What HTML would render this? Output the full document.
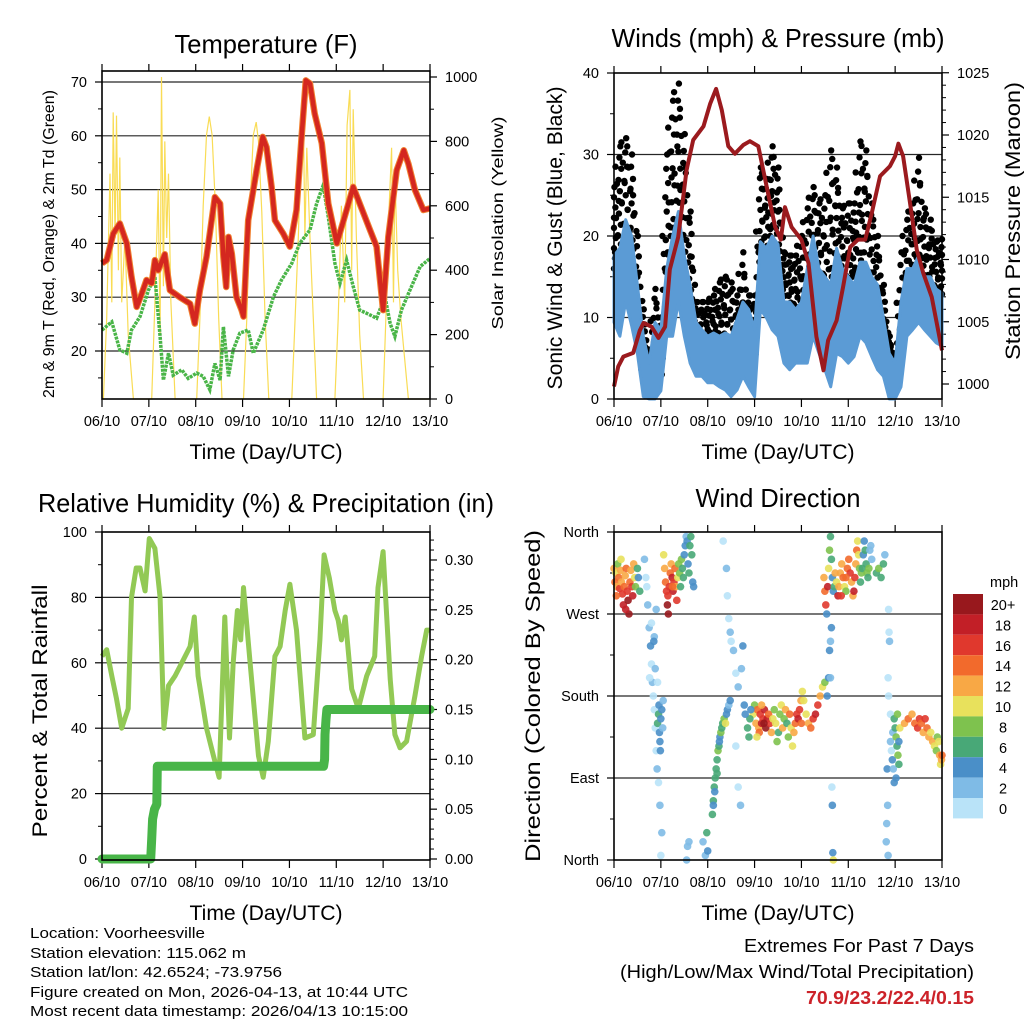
<!DOCTYPE html>
<html><head><meta charset="utf-8"><style>
html,body{margin:0;padding:0;background:#fff;}
svg{display:block;font-family:"Liberation Sans",sans-serif;}
</style></head><body>
<svg id="chart" width="1024" height="1024" viewBox="0 0 1024 1024" xmlns="http://www.w3.org/2000/svg">
<rect x="0" y="0" width="1024" height="1024" fill="#fff"/>
<g id="g1"></g>
<g id="g2"></g>
<g id="g3"></g>
<g id="g4"></g>

<text x="266" y="53" font-size="26" text-anchor="middle" textLength="183" lengthAdjust="spacingAndGlyphs">Temperature (F)</text>
<text x="778" y="47" font-size="26" text-anchor="middle" textLength="333" lengthAdjust="spacingAndGlyphs">Winds (mph) &amp; Pressure (mb)</text>
<text x="266" y="512" font-size="26" text-anchor="middle" textLength="456" lengthAdjust="spacingAndGlyphs">Relative Humidity (%) &amp; Precipitation (in)</text>
<text x="778" y="507" font-size="26" text-anchor="middle" textLength="165" lengthAdjust="spacingAndGlyphs">Wind Direction</text>

<text x="266" y="459" font-size="21" text-anchor="middle" textLength="153" lengthAdjust="spacingAndGlyphs">Time (Day/UTC)</text>
<text x="778" y="459" font-size="21" text-anchor="middle" textLength="153" lengthAdjust="spacingAndGlyphs">Time (Day/UTC)</text>
<text x="266" y="920" font-size="21" text-anchor="middle" textLength="153" lengthAdjust="spacingAndGlyphs">Time (Day/UTC)</text>
<text x="778" y="920" font-size="21" text-anchor="middle" textLength="153" lengthAdjust="spacingAndGlyphs">Time (Day/UTC)</text>

<text transform="translate(54,244) rotate(-90)" font-size="16" text-anchor="middle" textLength="308" lengthAdjust="spacingAndGlyphs">2m &amp; 9m T (Red, Orange) &amp; 2m Td (Green)</text>
<text transform="translate(503,223) rotate(-90)" font-size="16" text-anchor="middle" textLength="213" lengthAdjust="spacingAndGlyphs">Solar Insolation (Yellow)</text>
<text transform="translate(562,238) rotate(-90)" font-size="21" text-anchor="middle" textLength="303" lengthAdjust="spacingAndGlyphs">Sonic Wind &amp; Gust (Blue, Black)</text>
<text transform="translate(1020,221) rotate(-90)" font-size="21" text-anchor="middle" textLength="278" lengthAdjust="spacingAndGlyphs">Station Pressure (Maroon)</text>
<text transform="translate(47,711) rotate(-90)" font-size="21" text-anchor="middle" textLength="253" lengthAdjust="spacingAndGlyphs">Percent &amp; Total Rainfall</text>
<text transform="translate(540,696) rotate(-90)" font-size="21" text-anchor="middle" textLength="332" lengthAdjust="spacingAndGlyphs">Direction (Colored By Speed)</text>

<g font-size="15">
<text x="30" y="938" textLength="175" lengthAdjust="spacingAndGlyphs">Location: Voorheesville</text>
<text x="30" y="958" textLength="216" lengthAdjust="spacingAndGlyphs">Station elevation: 115.062 m</text>
<text x="30" y="977" textLength="252" lengthAdjust="spacingAndGlyphs">Station lat/lon: 42.6524; -73.9756</text>
<text x="30" y="997" textLength="378" lengthAdjust="spacingAndGlyphs">Figure created on Mon, 2026-04-13, at 10:44 UTC</text>
<text x="30" y="1016" textLength="378" lengthAdjust="spacingAndGlyphs">Most recent data timestamp: 2026/04/13 10:15:00</text>
</g>
<g font-size="18" text-anchor="end">
<text x="974" y="952" textLength="230" lengthAdjust="spacingAndGlyphs">Extremes For Past 7 Days</text>
<text x="974" y="978" textLength="354" lengthAdjust="spacingAndGlyphs">(High/Low/Max Wind/Total Precipitation)</text>
<text x="974" y="1004" fill="#cc2229" font-weight="bold" textLength="168" lengthAdjust="spacingAndGlyphs">70.9/23.2/22.4/0.15</text>
</g>
</svg>
<script>
// ---------- data ----------
const dayLabels = ["06/10","07/10","08/10","09/10","10/10","11/10","12/10","13/10"];
const tempTicks = [20,30,40,50,60,70];
const solarTicks = [0,200,400,600,800,1000];
const windTicks = [0,10,20,30,40];
const presTicks = [1000,1005,1010,1015,1020,1025];
const rhTicks = [0,20,40,60,80,100];
const precipTicks = [0,0.05,0.10,0.15,0.20,0.25,0.30];
const precipTickLabels = ["0.00","0.05","0.10","0.15","0.20","0.25","0.30"];
const dirTicks = [0,90,180,270,360];
const dirTickLabels = ["North","East","South","West","North"];

const tempT = [0,0.10,0.24,0.38,0.53,0.63,0.74,0.85,0.95,1.06,1.13,1.20,1.34,1.45,1.66,1.88,1.98,2.09,2.23,2.41,2.52,2.59,2.65,2.70,2.77,2.87,2.98,3.02,3.12,3.30,3.43,3.51,3.62,3.69,3.87,4.01,4.15,4.26,4.35,4.44,4.54,4.69,4.83,5.01,5.22,5.36,5.50,5.72,5.86,6.00,6.11,6.29,6.44,6.54,6.68,6.86,7.00];
const tempV = [36.3,36.9,41.8,43.7,40,33.8,28.2,30.7,33.2,32.6,36.9,35,38,31.3,30,28.8,25.1,31.3,37.5,48.6,47.4,37.5,31.9,41.2,38.1,30,27.6,26.4,44.3,53.6,59.8,57.9,50.5,44.3,41.8,39.4,46.2,59.8,70.3,69.7,64.1,58.6,47.4,40,46.2,50.5,47.4,42.5,39.4,27.6,41.2,53.6,57.3,54.8,49.9,46.2,46.5];
const dewT = [0,0.21,0.38,0.53,0.63,0.81,0.99,1.13,1.24,1.31,1.42,1.52,1.70,1.84,2.02,2.16,2.30,2.41,2.52,2.59,2.70,2.80,2.94,3.12,3.23,3.44,3.66,3.83,4.05,4.22,4.44,4.58,4.72,4.83,4.97,5.08,5.22,5.36,5.50,5.65,5.86,6.04,6.15,6.25,6.39,6.57,6.79,7.00];
const dewV = [23.9,25.4,20.2,19.6,23.9,26.4,31.3,33.8,22.7,14.6,19.6,15.5,16.5,14.9,15.9,15.3,12.8,17.7,14.6,24.5,15.3,20.2,23.3,23.9,19.6,23.9,30.1,33.2,36.3,40,42.5,47.4,50.8,44.9,36.3,32.6,36.9,32,27.6,27,26.1,30.1,25.1,22.7,27.6,31.3,35.7,37.2];
const solarT = [0,0.03,0.10,0.17,0.21,0.24,0.28,0.31,0.35,0.38,0.42,0.49,0.56,0.67,1.06,1.13,1.20,1.24,1.27,1.31,1.34,1.38,1.42,1.47,1.56,2.02,2.09,2.16,2.23,2.29,2.35,2.42,2.49,2.56,3.02,3.09,3.16,3.23,3.29,3.34,3.41,3.48,3.56,4.05,4.12,4.19,4.25,4.30,4.33,4.37,4.44,4.51,4.58,4.97,5.04,5.11,5.18,5.23,5.29,5.33,5.36,5.43,5.50,5.58,6.00,6.07,6.13,6.18,6.22,6.25,6.31,6.38,6.54,7.00];
const solarW = [0,0,250,700,300,890,500,880,400,750,300,500,200,0,0,300,650,200,1000,350,800,500,700,300,0,0,250,600,820,877,820,600,250,0,0,250,600,820,860,800,580,250,0,0,250,500,800,840,500,780,500,250,0,0,250,600,300,850,960,400,900,500,200,0,0,300,600,780,300,700,400,250,0,0];

const gustHi = [26,31,32,30,20,11,5.6,13.5,10,30,36.6,38.7,32.5,23,11.9,11.9,11.9,12.7,14.3,15,14.3,12.7,18,12.7,12.7,28.4,27,31,28.4,18,17.6,17.6,20,23.4,26,24,25,30.5,28.4,23.4,24,24,31.6,30.5,24,20,14,7.7,5.6,18,22,24,29.6,23.4,22,19.3,19.6];
const gustLo = [16,20,18,18,10,3.6,2,4,2,16,20,22,16,12,5.7,4.4,5.2,5.7,6,5.7,5.2,5.7,5.7,5.7,4.4,18,17.6,20,17.6,11.9,11,9.4,9.4,11.9,14.3,14.3,11.9,14,16,14,11.9,15,16,18,12.7,9.8,5.7,2.4,1.5,5.6,11.9,14,16,14,12.7,11.9,11.9];
const windHi = [17.6,18.5,22,20,14,7.7,4.4,9.4,8.5,16,20,23,17.6,14,9.4,8.5,7.7,8.1,7.7,8.1,7.7,9.8,11.9,11,8.5,19.3,18.5,20,19,11.9,11.9,11,11.9,16,20,16,15,14,18.5,16,15,14,16.8,16.8,15,14,10,5.6,4.4,11.9,16,16,17.6,15,15,13.5,13];
const windLo = [9.4,7.7,12,9,5.6,0.3,0,0,1,7.7,7.7,12,7.7,4.4,2.8,2.8,2,2,1.5,1.1,0.3,1.1,2.8,1.5,0.3,11,10,8.5,7.7,4.4,3.6,4.4,4.4,4.4,7.7,5.6,3.6,1.5,5.6,5.2,4.4,5.2,7.7,6.9,5.2,3.6,2.8,0,0,1.5,7.7,8.5,9.4,8.5,7.7,6.9,6.5];
const presT = [0,0.09,0.20,0.41,0.55,0.63,0.80,0.95,1.09,1.19,1.37,1.55,1.69,1.91,2.05,2.18,2.30,2.44,2.58,2.76,2.90,3.08,3.26,3.44,3.56,3.65,3.79,4.00,4.15,4.32,4.47,4.57,4.75,4.89,5.04,5.21,5.36,5.50,5.68,5.89,6.00,6.07,6.17,6.32,6.46,6.60,6.78,7.00];
const presV = [999.8,1001.4,1002.2,1002.5,1004.3,1004.9,1004.6,1003.7,1004.6,1009.2,1011.8,1017.2,1019.6,1020.7,1022.5,1023.7,1022,1019.1,1018.5,1019.2,1019.5,1019.1,1015.8,1012.6,1011.6,1014.2,1012.6,1011.6,1009.7,1003.8,1001.1,1003.5,1005.1,1007.8,1011,1011.6,1011.6,1013.7,1016.7,1017.5,1018.3,1019.3,1018.3,1014.5,1010.8,1008.9,1007,1002.7];

const rhT = [0,0.10,0.21,0.31,0.42,0.56,0.63,0.73,0.81,0.92,1.01,1.13,1.24,1.32,1.42,1.56,1.74,1.88,1.97,2.05,2.23,2.38,2.50,2.62,2.72,2.80,2.89,2.96,3.02,3.16,3.34,3.44,3.55,3.69,3.80,3.91,4.01,4.15,4.33,4.51,4.65,4.74,4.85,4.97,5.04,5.11,5.19,5.33,5.47,5.65,5.82,5.89,6.00,6.15,6.25,6.36,6.50,6.68,6.82,6.93,7.00];
const rhV = [62,64,56,49,40,46,80,89,89,82,98,95,80,40,53,56,61,65,74,56,40,31.5,25,74,37,60,76,67,83,60,31.5,25,36,62,65,76,84,70,37,38,67,93,86,76,73,67,74,52,46,56,62,83,94,55,38,34,36,50,62,70,70];
const precipT = [0,1.04,1.06,1.08,1.12,1.17,1.18,4.73,4.75,4.76,4.78,4.80,7.0];
const precipV = [0,0,0.02,0.04,0.05,0.055,0.093,0.093,0.10,0.125,0.14,0.15,0.15];

const dirT = [0,0.02,0.04,0.06,0.08,0.1,0.12,0.14,0.16,0.18,0.2,0.22,0.24,0.26,0.28,0.3,0.32,0.34,0.36,0.38,0.4,0.42,0.44,0.46,0.5,0.52,0.55,0.05,0.15,0.25,
0.65,0.68,0.7,0.72,0.75,0.78,0.8,0.82,0.84,0.86,0.88,0.9,0.92,0.95,0.98,0.8,0.76,0.86,0.9,0.93,1.0,1.02,0.85,0.88,
0.93,0.95,0.97,0.98,1.0,1.02,1.04,0.96,1.05,0.99,
1.06,1.08,1.1,1.12,1.14,1.16,1.18,1.2,1.22,1.24,1.26,1.28,1.3,1.32,1.34,1.36,1.38,1.4,1.42,1.44,1.46,1.48,1.5,1.52,1.54,1.56,1.58,1.6,1.62,1.64,1.66,1.68,1.7,1.15,1.25,
1.55,1.57,1.6,1.9,1.95,1.98,2.0,
2.1,2.12,2.14,2.16,2.18,2.2,2.22,2.24,2.26,2.28,2.3,2.32,2.35,2.38,2.4,2.42,2.45,2.48,2.15,2.2,2.25,2.12,
2.33,2.4,2.42,2.45,2.48,2.5,2.55,2.6,2.65,2.72,2.78,2.75,2.6,2.65,2.7,
2.97,3.0,3.03,3.06,3.09,3.12,3.15,3.18,3.21,3.24,3.27,3.3,3.33,3.36,3.39,3.42,3.45,3.48,3.51,3.54,3.57,3.6,3.63,3.66,3.69,3.72,3.75,3.78,3.81,3.84,3.87,3.9,3.93,3.96,3.99,4.02,4.05,4.0,3.1,3.2,3.15,3.05,2.9,2.85,2.8,2.88,2.92,
4.1,4.15,4.2,4.25,4.3,4.35,4.4,4.45,4.5,
4.55,4.58,4.6,4.62,4.64,4.65,4.66,4.67,4.68,4.62,
4.48,4.5,4.52,4.54,4.56,4.58,4.6,4.62,4.64,4.66,4.68,4.7,4.72,4.75,4.78,4.8,4.83,4.86,4.89,4.92,4.95,4.98,5.01,5.04,5.07,5.1,5.12,5.14,5.16,5.18,5.2,5.22,5.24,5.26,5.28,5.3,5.32,5.34,5.36,5.38,5.4,5.42,5.44,5.46,5.48,5.5,4.85,4.95,
5.6,5.65,5.7,5.75,5.78,
5.86,5.87,5.88,5.85,5.86,5.9,5.84,5.82,5.81,5.85,5.83,
5.9,5.92,5.94,5.96,5.95,5.98,6.0,6.02,6.04,6.06,6.08,6.1,6.2,6.28,6.36,6.42,6.48,6.52,6.56,6.6,6.64,6.68,6.72,6.76,6.8,6.84,6.88,6.9,6.93,6.95,6.97,6.99,7.0,6.02,5.98,6.05,6.08];
const dirD = [320,305,315,300,325,310,298,318,305,292,280,300,312,320,295,285,270,305,318,300,290,325,310,300,320,310,295,290,330,275,
330,310,300,280,255,235,215,195,180,165,145,120,100,85,60,260,200,245,275,195,5,30,240,210,
150,160,140,130,155,165,145,170,175,120,
335,320,305,295,280,270,300,315,325,310,295,305,320,300,285,310,325,315,300,330,320,310,335,345,355,350,325,315,345,355,335,305,300,290,300,
0,15,20,20,5,30,10,
50,65,80,90,100,110,120,125,135,140,145,150,155,150,160,165,170,175,75,95,130,60,
350,320,290,265,250,240,230,205,190,210,170,235,125,80,60,
160,170,150,165,145,160,150,155,165,145,155,160,150,140,155,165,150,130,140,160,170,145,155,165,150,135,160,145,125,140,150,160,155,165,175,185,175,150,140,150,170,135,155,145,160,135,165,
160,150,145,155,160,170,180,190,195,
180,200,230,240,255,80,60,8,0,200,
310,295,280,270,300,320,340,355,330,310,295,300,315,305,290,300,315,325,310,300,295,320,330,315,305,290,295,310,325,340,350,335,320,305,315,320,335,350,340,325,315,310,320,340,345,330,290,310,
315,320,310,325,335,
275,250,240,200,180,160,60,40,20,5,100,
130,120,110,100,140,155,145,135,125,115,105,145,150,155,160,150,145,155,150,140,155,145,135,140,130,125,120,135,130,115,105,110,115,90,85,160,130];
const dirS = [12,14,10,12,9,14,16,12,13,16,18,14,12,14,16,20,20,15,13,16,18,12,10,8,6,4,6,14,11,18,
2,1,0,2,2,4,1,2,1,0,1,0,2,1,2,1,0,2,3,1,1,3,4,3,
7,6,5,4,4,4,3,4,2,5,
10,12,14,16,20,20,16,14,12,18,18,16,14,13,16,10,9,8,7,8,6,7,5,4,3,4,4,6,6,6,6,4,5,17,15,
2,2,3,3,2,6,4,
6,6,7,6,7,7,8,6,5,8,6,6,8,10,5,4,3,4,5,6,4,4,
1,3,1,1,2,1,2,0,2,3,5,4,1,1,2,
10,8,12,14,12,16,18,16,18,20,18,14,16,12,10,8,10,8,6,8,10,12,8,12,6,8,14,10,10,12,14,16,18,16,12,10,10,14,14,20,12,10,7,6,5,6,4,
10,12,14,16,18,16,12,10,9,
4,5,4,2,4,1,4,5,10,3,
12,14,16,4,18,10,8,6,6,5,4,7,12,10,18,12,12,13,14,10,9,14,15,16,13,12,18,16,12,14,11,10,8,6,8,7,4,4,6,7,8,7,8,3,2,2,16,14,
7,8,7,6,3,
1,1,2,1,1,0,3,3,2,2,4,
2,1,4,3,2,6,7,8,7,9,6,10,12,14,12,14,16,16,14,12,16,14,12,10,12,10,8,8,11,12,10,12,14,4,4,8,5];

const legendLabels = ["20+","18","16","14","12","10","8","6","4","2","0"];
const speedColors = ["#b9e3f8","#7fbbe6","#4a8fc8","#48a877","#7ec24e","#e8e15c","#f8a845","#f26a2c","#e0382d","#c21f27","#98181d"];

// ---------- helpers ----------
const NS = "http://www.w3.org/2000/svg";
function mk(tag, attrs, parent){const e=document.createElementNS(NS,tag);for(const k in attrs)e.setAttribute(k,attrs[k]);parent.appendChild(e);return e;}
const P1={x0:102,x1:430,y0:71,y1:399}, P2={x0:614,x1:942,y0:73,y1:399}, P3={x0:102,x1:430,y0:532,y1:860}, P4={x0:614,x1:942,y0:532,y1:860};
const xOf=(p,t)=>p.x0+t*(p.x1-p.x0)/7;
const yTemp=v=>351-(v-20)*5.38, ySolar=v=>399-v*0.322;
const yWind=v=>399-v*8.15, yPres=v=>384-(v-1000)*12.45;
const yRH=v=>859-v*3.27, yPrecip=v=>859-v*996.7;
const yDir=v=>860-v*328/360;
function pts(p,ts,vs,yf){return ts.map((t,i)=>xOf(p,t).toFixed(1)+","+yf(vs[i]).toFixed(1)).join(" ");}

function frame(g,p,leftTicks,leftLabels,yL,rightTicks,rightLabels,yR,gridVals,minorL,minorR){
  gridVals.forEach(v=>{
    const l=mk("line",{x1:p.x0,x2:p.x1,y1:yL(v),y2:yL(v),stroke:"#000","stroke-width":1.2,"stroke-opacity":0.85},g);
    
    
  });
  for(let d=0;d<=7;d++){
    const x=xOf(p,d);
    const tb=mk("line",{x1:x,x2:x,y1:p.y1,y2:p.y1+8,stroke:"#000","stroke-width":1.2},g);
    
    
    const tt=mk("line",{x1:x,x2:x,y1:p.y0,y2:p.y0-7,stroke:"#000","stroke-width":1.2},g);
    
    
    const lb=mk("text",{x:x,y:p.y1+27,"font-size":14.5,"text-anchor":"middle"},g);
    
    
    lb.textContent=dayLabels[d];
  }
  leftTicks.forEach((v,i)=>{
    const y=yL(v);
    const t=mk("line",{x1:p.x0-7,x2:p.x0,y1:y,y2:y,stroke:"#000","stroke-width":1.2},g);
    
    
    const lb=mk("text",{x:p.x0-15,y:y+5,"font-size":14.5,"text-anchor":"end"},g);
    
    
    lb.textContent=leftLabels[i];
  });
  minorL.forEach(v=>{
    const t=mk("line",{x1:p.x0-4,x2:p.x0,y1:yL(v),y2:yL(v),stroke:"#000","stroke-width":1},g);
    
    
  });
  rightTicks.forEach((v,i)=>{
    const y=yR(v);
    const t=mk("line",{x1:p.x1,x2:p.x1+7,y1:y,y2:y,stroke:"#000","stroke-width":1.2},g);
    
    
    const lb=mk("text",{x:p.x1+15,y:y+5,"font-size":14.5,"text-anchor":"start"},g);
    
    
    lb.textContent=rightLabels[i];
  });
  minorR.forEach(v=>{
    const t=mk("line",{x1:p.x1,x2:p.x1+4,y1:yR(v),y2:yR(v),stroke:"#000","stroke-width":1},g);
    
    
  });
}
function border(g,p){
  const r=mk("rect",{x:p.x0,y:p.y0,width:p.x1-p.x0,height:p.y1-p.y0,fill:"none",stroke:"#000","stroke-width":1.6},g);
  
  
}

// ---------- panel 1 ----------
const g1=document.getElementById("g1");
frame(g1,P1,tempTicks,tempTicks.map(String),yTemp,solarTicks,solarTicks.map(String),ySolar,[20,30,40,50,60,70],[15,25,35,45,55,65],[100,300,500,700,900]);
const sol=mk("polyline",{points:pts(P1,solarT,solarW,ySolar),fill:"none",stroke:"#f9dc55","stroke-width":1.2},g1);


const dew=mk("polyline",{points:pts(P1,dewT,dewV,yTemp),fill:"none",stroke:"#4ab548","stroke-width":3.5,"stroke-dasharray":"3 1"},g1);


const tOr=mk("polyline",{points:pts(P1,tempT,tempV,yTemp),fill:"none",stroke:"#f08030","stroke-width":6.5,"stroke-linejoin":"round"},g1);


const tRd=mk("polyline",{points:pts(P1,tempT,tempV,yTemp),fill:"none",stroke:"#d4271f","stroke-width":4.5,"stroke-linejoin":"round"},g1);


border(g1,P1);

// ---------- panel 2 ----------
const g2=document.getElementById("g2");
frame(g2,P2,windTicks,windTicks.map(String),yWind,presTicks,presTicks.map(String),yPres,[10,20,30],[5,15,25,35],[1001,1002,1003,1004,1006,1007,1008,1009,1011,1012,1013,1014,1016,1017,1018,1019,1021,1022,1023,1024]);
const wT=gustHi.map((v,i)=>i*0.125);
const fracs=[0,0.125,0.25,0.375,0.5,0.625,0.75,0.875,1];
const offs=[-0.04,0.02,-0.02,0.04,0,-0.03,0.03,-0.01,0.01];
gustHi.forEach((v,i)=>{
  fracs.forEach((f,j)=>{
    const val=gustLo[i]+(v-gustLo[i])*f;
    const tt=Math.max(0,Math.min(7,wT[i]+offs[j]));
    const c=mk("circle",{cx:xOf(P2,tt),cy:yWind(val),r:3.2,fill:"#000"},g2);
    
    
  });
  if(i<gustHi.length-1){
    const mh=(v+gustHi[i+1])/2, ml=(gustLo[i]+gustLo[i+1])/2;
    [0,0.2,0.4,0.6,0.8,1].forEach((f,j)=>{
      const c=mk("circle",{cx:xOf(P2,wT[i]+0.0625+offs[j]),cy:yWind(ml+(mh-ml)*f),r:3.2,fill:"#000"},g2);
      
      
    });
  }
});
const bandW=pts(P2,wT,windHi,yWind)+" "+pts(P2,wT.slice().reverse(),windLo.slice().reverse(),yWind);
const wb=mk("polygon",{points:bandW,fill:"#5b9bd5",stroke:"#5b9bd5","stroke-width":3,"stroke-linejoin":"round"},g2);


const pl=mk("polyline",{points:pts(P2,presT,presV,yPres),fill:"none",stroke:"#9b1a1e","stroke-width":4,"stroke-linejoin":"round"},g2);


border(g2,P2);

// ---------- panel 3 ----------
const g3=document.getElementById("g3");
frame(g3,P3,rhTicks,rhTicks.map(String),yRH,precipTicks,precipTickLabels,yPrecip,[20,40,60,80],[10,30,50,70,90],[0.01,0.02,0.03,0.04,0.06,0.07,0.08,0.09,0.11,0.12,0.13,0.14,0.16,0.17,0.18,0.19,0.21,0.22,0.23,0.24,0.26,0.27,0.28,0.29,0.31,0.32]);
const rh=mk("polyline",{points:pts(P3,rhT,rhV,yRH),fill:"none",stroke:"#92c955","stroke-width":5,"stroke-linejoin":"round"},g3);


const pr=mk("polyline",{points:pts(P3,precipT,precipV,yPrecip),fill:"none",stroke:"#48b548","stroke-width":9,"stroke-linejoin":"round","stroke-linecap":"round"},g3);


border(g3,P3);

// ---------- panel 4 ----------
const g4=document.getElementById("g4");
frame(g4,P4,dirTicks,dirTickLabels,yDir,[],[],yDir,[90,180,270],[45,135,225,315],[]);
dirT.forEach((t,i)=>{
  const s=dirS[i];
  const bin=Math.min(10,Math.floor(s/2));
  const c=mk("circle",{cx:xOf(P4,t),cy:yDir(dirD[i]),r:3.8,fill:speedColors[bin],"fill-opacity":0.9},g4);
  
  
});
border(g4,P4);
const lgTop=594, lgH=20.4;
const mphT=mk("text",{x:990,y:587,"font-size":14.5},g4);


mphT.textContent="mph";
legendLabels.forEach((lab,i)=>{
  const r=mk("rect",{x:953,y:lgTop+i*lgH,width:30,height:lgH,fill:speedColors[10-i]},g4);
  
  
  const tx=mk("text",{x:1003,y:lgTop+i*lgH+16,"font-size":14.5,"text-anchor":"middle"},g4);
  
  
  tx.textContent=lab;
});
</script>
</body></html>
